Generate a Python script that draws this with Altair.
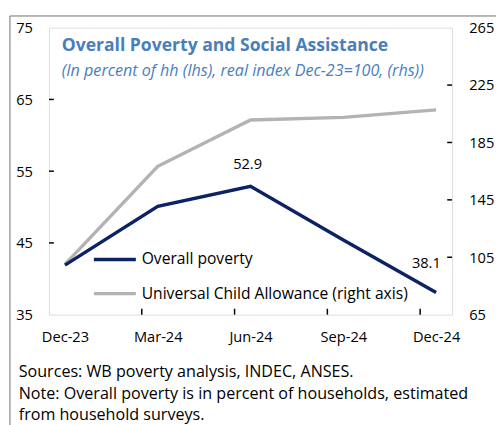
import altair as alt
import pandas as pd

months = ["Dec-23", "Mar-24", "Jun-24", "Sep-24", "Dec-24"]
poverty = [41.9, 50.1, 52.9, 45.4, 38.1]
auh = [100.0, 168.4, 200.7, 202.5, 207.7]
point_labels = ["", "", "52.9", "", "38.1"]
series_names = ["Overall poverty", "Universal Child Allowance (right axis)"]
series_colors = ["#0B2265", "#B3B3B3"]
left_ticks = [35, 45, 55, 65, 75]
right_ticks = [65, 105, 145, 185, 225, 265]
title_text = "Overall Poverty and Social Assistance"
subtitle_text = "(In percent of hh (lhs), real index Dec-23=100, (rhs))"
notes = [
    "Sources: WB poverty analysis, INDEC, ANSES.",
    "Note: Overall poverty is in percent of households, estimated",
    "from household surveys.",
]

FONT = "Open Sans"
W, H = 413, 294
X_PAD = 0.172

idx = list(range(len(months)))
df_pov = pd.DataFrame({"i": idx, "month": months, "v": poverty,
                       "series": series_names[0], "lab": point_labels})
df_auh = pd.DataFrame({"i": idx, "month": months, "v": auh, "series": series_names[1]})
df_xt = pd.DataFrame({"t": [i - X_PAD for i in idx[1:]]})
df_lt = pd.DataFrame({"v": left_ticks[1:-1]})
df_rt = pd.DataFrame({"v": right_ticks[1:-1]})

label_expr = "[" + ",".join(f"'{m}'" for m in months) + "][datum.value]"

x_enc = alt.X(
    "i:Q",
    scale=alt.Scale(domain=[-X_PAD, len(months) - 1 + X_PAD], nice=False, zero=False),
    axis=alt.Axis(values=idx, labelExpr=label_expr, title=None, tickSize=0, domain=False,
                  grid=False, labelPadding=16, labelFontSize=15, labelFont=FONT,
                  labelColor="#000000"),
)
yl_scale = alt.Scale(domain=[35, 75], nice=False, zero=False)
yr_scale = alt.Scale(domain=[65, 265], nice=False, zero=False)

color = alt.Color(
    "series:N",
    scale=alt.Scale(domain=series_names, range=series_colors),
    legend=alt.Legend(
        title=None, orient="none", legendX=44, legendY=214, symbolType="stroke",
        symbolSize=1849, symbolStrokeWidth=3.5, labelFontSize=16, labelFont=FONT,
        labelColor="#000000", rowPadding=3, labelOffset=4, labelLimit=0,
    ),
)

poverty_line = alt.Chart(df_pov).mark_line(strokeWidth=3.5).encode(
    x=x_enc,
    y=alt.Y("v:Q", scale=yl_scale,
            axis=alt.Axis(orient="left", values=left_ticks, title=None, tickSize=0,
                          domain=False, grid=False, labelPadding=17, labelFontSize=15,
                          labelFont=FONT, labelColor="#000000")),
    color=color,
)
text_base = alt.Chart(df_pov).encode(
    x="i:Q", y=alt.Y("v:Q", scale=yl_scale), text="lab:N")
peak_text = text_base.mark_text(
    font=FONT, fontSize=15, color="#000000", dx=-3, dy=-23
).transform_filter(alt.datum.i == 2)
last_text = text_base.mark_text(
    font=FONT, fontSize=15, color="#000000", dx=-10, dy=-30
).transform_filter(alt.datum.i == 4)

left_tick_rules = alt.Chart(df_lt).mark_rule(color="#000000", strokeWidth=1.5).encode(
    y=alt.Y("v:Q", scale=yl_scale), x=alt.value(0), x2=alt.value(5))
x_tick_rules = alt.Chart(df_xt).mark_rule(color="#000000", strokeWidth=1.5).encode(
    x=alt.X("t:Q"), y=alt.value(H), y2=alt.value(H - 6))

title_mark = alt.Chart(df_pov.head(1)).mark_text(
    font=FONT, fontSize=18, fontWeight="bold", color="#4A7EBB", align="left",
    baseline="middle").encode(x=alt.value(13), y=alt.value(19), text=alt.value(title_text))
subtitle_mark = alt.Chart(df_pov.head(1)).mark_text(
    font=FONT, fontSize=16.5, fontStyle="italic", color="#4A7EBB", align="left",
    baseline="middle").encode(x=alt.value(13), y=alt.value(44), text=alt.value(subtitle_text))
notes_mark = alt.Chart(df_pov.head(1)).mark_text(
    font=FONT, fontSize=16.5, color="#000000", align="left", baseline="alphabetic",
    lineHeight=22).encode(x=alt.value(-31), y=alt.value(358), text=alt.value(notes))

border_left = alt.Chart(df_pov.head(1)).mark_rule(color="#6E6E6E", strokeWidth=1).encode(
    x=alt.value(-40), y=alt.value(-12), y2=alt.value(H + 120))
border_top = alt.Chart(df_pov.head(1)).mark_rule(color="#6E6E6E", strokeWidth=1).encode(
    x=alt.value(-40), x2=alt.value(W + 60), y=alt.value(-12))

auh_line = alt.Chart(df_auh).mark_line(strokeWidth=3.5).encode(
    x="i:Q",
    y=alt.Y("v:Q", scale=yr_scale,
            axis=alt.Axis(orient="right", values=right_ticks, title=None, tickSize=0,
                          domain=False, grid=False, labelPadding=17, labelFontSize=15,
                          labelFont=FONT, labelColor="#000000")),
    color=color,
)
right_tick_rules = alt.Chart(df_rt).mark_rule(color="#000000", strokeWidth=1.5).encode(
    y=alt.Y("v:Q", scale=yr_scale), x=alt.value(W - 5), x2=alt.value(W))

right_layer = alt.layer(auh_line, right_tick_rules)
left_layer = alt.layer(poverty_line, peak_text, last_text, left_tick_rules, x_tick_rules,
                       title_mark, subtitle_mark, notes_mark, border_left, border_top)

chart = alt.layer(right_layer, left_layer).resolve_scale(y="independent").properties(
    width=W, height=H,
    autosize=alt.AutoSizeParams(type="none"),
    padding={"left": 42, "top": 15, "right": 45, "bottom": 112},
).configure_view(stroke="#000000", strokeWidth=2).configure(background="white")

chart.save("out.html", embed_options={"renderer": "svg", "actions": False})
